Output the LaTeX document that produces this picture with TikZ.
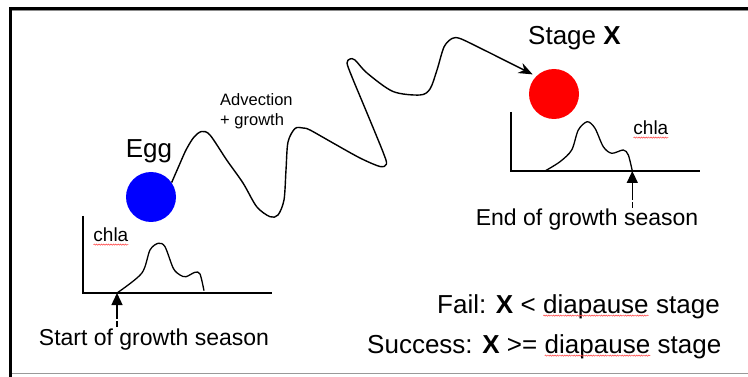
\documentclass[tikz,border=0pt]{standalone}
\usepackage{fontspec}
\setmainfont{Liberation Sans}
\usetikzlibrary{arrows.meta,decorations.pathmorphing}

% red spell-check squiggle under a word
\newcommand{\spellmark}[1]{\tikz[baseline=(w.base)]{\node[inner sep=0pt,outer sep=0pt] (w) {#1};
  \draw[red!75, line width=0.5pt, decorate, decoration={snake,amplitude=0.6pt,segment length=2.4pt}]
    ([yshift=-2.6pt]w.base west) -- ([yshift=-2.6pt]w.base east);}}

\begin{document}
\begin{tikzpicture}[x=1pt, y=-1pt,
  bigtxt/.style={font=\fontsize{26}{30}\selectfont, inner sep=0pt},
  seasontxt/.style={font=\fontsize{23}{26}\selectfont, inner sep=1pt},
  chlatxt/.style={font=\fontsize{19}{22}\selectfont, inner sep=0pt},
  flowtxt/.style={font=\fontsize{16.5}{20}\selectfont, inner sep=0pt, align=left},
  dot/.style={circle, minimum size=50pt, inner sep=0pt},
  axis/.style={line width=1.6pt},
  bloom/.style={line width=1.3pt},
  wave/.style={line width=1.4pt, -{Stealth[length=14pt,width=11pt]}, shorten >=4pt},
  marker/.style={line width=1.3pt, -{Triangle[length=12pt,width=11pt]}, dash pattern=on 6pt off 2pt on 40pt}
]
  \useasboundingbox (0,0) rectangle (748,377);
  % frame
  \draw[line width=3pt] (748,8.5) -| (10.5,377);
  \draw[black!45, line width=0.8pt] (12,10.6) -- (748,10.6);
  \draw[black!40, line width=1pt] (12,373.5) -- (748,373.5);

  % stages
  \node[dot, fill=blue] (egg) at (151,197) {};
  \node[bigtxt, anchor=base] (egglbl) at (149,158) {Egg};
  \node[dot, fill=red] (stage) at (554,94) {};
  \node[bigtxt, anchor=base west] (stagelbl) at (528,45) {Stage \textbf{X}};

  % start of season chart
  \coordinate (lstart) at (117,293);
  \draw[axis] (83,216) -- (83,293) -- (272,293);
  \draw[bloom] plot[smooth] coordinates {(lstart) (141.7,273.3) (150,250) (158.3,243.3) (165,246.7)
    (173.3,268.3) (180,275) (186,276.7) (195,272.3) (200,274) (204,290.7)};
  \node[chlatxt, anchor=base west] (lchla) at (93,242) {\spellmark{chla}};
  \node[seasontxt, anchor=base] (startlbl) at (154,345) {Start of growth season};
  \draw[marker] (startlbl.north -| lstart) -- (lstart);

  % end of season chart
  \coordinate (rend) at (632.3,171);
  \draw[axis] (511,112) -- (511,171) -- (700,171);
  \draw[bloom] plot[smooth] coordinates {(545,171) (560,161.7) (571.7,150) (578.3,130) (587.3,121.7)
    (595,128.3) (603.3,146.7) (611.7,153.3) (623.3,150) (628.3,155) (rend)};
  \node[chlatxt, anchor=base west] (rchla) at (633,135) {\spellmark{chla}};
  \node[seasontxt, anchor=base] (endlbl) at (587,226) {End of growth season};
  \draw[marker] (endlbl.north -| rend) -- (rend);

  % path from egg to stage X
  \node[flowtxt, anchor=north west] (flowlbl) at (220,93.5) {Advection\\+ growth};
  \draw[wave] plot[smooth] coordinates {(egg.35) (178,168) (186,150) (194,137) (201.7,131.5) (210,135)
    (226.7,160) (243,183) (256.7,206.7) (270,216.7) (278,215) (284,200) (286,170) (288,142) (295,128.5)
    (303,128) (310,130) (333,143) (360,158) (380,166.5) (386.5,164) (383,152) (367,113) (352,77)
    (347,63) (350,59) (355,60) (367,73) (393,91.5) (420,95) (430,89) (437,70) (444,47) (452,38.5)
    (460,38.5) (480,48) (510,63) (stage.135)};

  % outcome
  \node[bigtxt, anchor=base west] (fail) at (437,313) {Fail: \textbf{X} < \spellmark{diapause} stage};
  \node[bigtxt, anchor=base west] (success) at (367,353) {Success: \textbf{X} >= \spellmark{diapause} stage};
\end{tikzpicture}
\end{document}
